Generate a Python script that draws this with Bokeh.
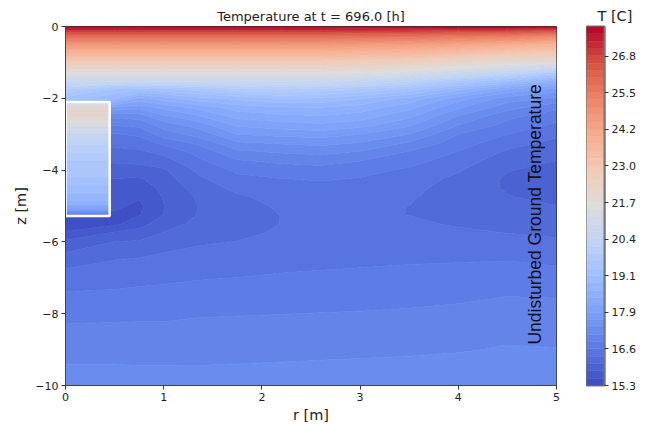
from bokeh.plotting import figure
from bokeh.layouts import row
from bokeh.models import FixedTicker, Title, Range1d
from bokeh.core.properties import value
from bokeh.embed import file_html
from bokeh.resources import INLINE
import numpy as np

TITLE = "Temperature at t = 696.0 [h]"
X_LABEL = "r [m]"
Y_LABEL = "z [m]"
CBAR_TITLE = "T [C]"
NOTE = "Undisturbed Ground Temperature"
T_MIN, T_MAX = 15.3, 27.83
BANDS = 49
cbar_ticks = [15.3, 16.577, 17.855, 19.132, 20.41, 21.687, 22.965, 24.242, 25.52, 26.797]
cbar_labels = ["15.3", "16.6", "17.9", "19.1", "20.4", "21.7", "23.0", "24.2", "25.5", "26.8"]
x_ticks = [0, 1, 2, 3, 4, 5]
y_ticks = [-10, -8, -6, -4, -2, 0]
y_labels = ["\u221210", "\u22128", "\u22126", "\u22124", "\u22122", "0"]

well_r = [0.0, 0.45]
well_top, well_bottom = -2.1, -5.28
well_z = [-2.1, -2.25, -2.4, -2.6, -3.0, -3.4, -3.8, -4.2, -4.6, -4.9, -5.1, -5.3]
well_T = [21.0, 21.7, 22.1, 21.7, 20.7, 20.0, 19.6, 19.4, 19.0, 18.6, 17.8, 16.3]

depths = [0, -.1, -.25, -.5, -.75, -1, -1.25, -1.5, -1.75, -2, -2.25, -2.5, -2.75, -3, -3.25, -3.5, -3.75,
          -4, -4.25, -4.5, -4.75, -5, -5.25, -5.5, -5.75, -6, -6.5, -7, -7.5, -8, -8.5, -9, -9.5, -10]
radii = [0, .5, .75, 1, 1.35, 1.75, 2.2, 2.6, 3, 3.5, 4, 4.5, 5]

upper = [27.83, 27.1, 26.0, 24.7, 23.7, 22.7, 21.7, 20.8]
T_r0 = upper + [19.9, 19.3, 18.0, 17.2, 16.84, 16.56, 16.39, 16.25, 16.1, 15.95, 15.8, 15.72, 15.66, 15.6, 15.4, 15.45, 15.58, 15.86, 16.21, 16.43, 16.62, 16.76, 16.89, 17.0, 17.11, 17.22]
T_r050 = upper + [19.3, 18.95, 17.8, 17.15, 16.84, 16.56, 16.39, 16.25, 16.1, 15.95, 15.8, 15.72, 15.66, 15.6, 15.52, 15.5, 15.85, 16.07, 16.32, 16.48, 16.63, 16.77, 16.9, 17.0, 17.11, 17.22]
T_r075 = upper + [19.2, 18.3, 17.7, 17.2, 16.9, 16.62, 16.45, 16.26, 16.13, 15.95, 15.78, 15.67, 15.58, 15.5, 15.54, 15.72, 15.9, 16.1, 16.35, 16.51, 16.65, 16.78, 16.9, 17.0, 17.1, 17.21]
T_r100 = upper + [19.3, 18.5, 17.95, 17.55, 17.2, 16.97, 16.63, 16.4, 16.2, 16.03, 15.95, 15.88, 15.83, 15.8, 15.82, 15.95, 16.08, 16.2, 16.4, 16.53, 16.66, 16.78, 16.9, 17.0, 17.1, 17.21]
T_r135 = upper + [19.5, 18.8, 18.2, 17.82, 17.45, 17.18, 16.88, 16.65, 16.52, 16.38, 16.27, 16.18, 16.1, 16.07, 16.08, 16.14, 16.22, 16.29, 16.43, 16.56, 16.69, 16.81, 16.92, 17.01, 17.1, 17.22]
T_r175 = upper + [19.8, 18.95, 18.5, 18.2, 17.9, 17.6, 17.3, 17.02, 16.8, 16.63, 16.5, 16.39, 16.28, 16.2, 16.17, 16.2, 16.26, 16.33, 16.45, 16.58, 16.71, 16.82, 16.92, 17.01, 17.11, 17.22]
T_r220 = upper + [19.9, 19.15, 18.6, 18.3, 17.98, 17.68, 17.37, 17.11, 16.88, 16.7, 16.57, 16.48, 16.42, 16.37, 16.33, 16.33, 16.36, 16.39, 16.49, 16.61, 16.72, 16.83, 16.93, 17.02, 17.12, 17.23]
T_r260 = upper + [19.8, 19.1, 18.62, 18.35, 18.05, 17.72, 17.42, 17.16, 16.92, 16.74, 16.6, 16.5, 16.44, 16.4, 16.38, 16.38, 16.4, 16.43, 16.52, 16.62, 16.73, 16.84, 16.94, 17.03, 17.13, 17.24]
T_r300 = [27.83, 27.05, 25.95, 24.6, 23.6, 22.6, 21.6, 20.6, 19.6, 18.9, 18.52, 18.24, 17.95, 17.6, 17.32, 17.06, 16.83, 16.66, 16.56, 16.47, 16.41, 16.37, 16.35, 16.36, 16.39, 16.43, 16.53, 16.64, 16.74, 16.85, 16.96, 17.04, 17.14, 17.26]
T_r350 = [27.83, 27.0, 25.9, 24.5, 23.5, 22.4, 21.4, 20.3, 19.3, 18.55, 18.2, 17.92, 17.64, 17.35, 17.05, 16.8, 16.66, 16.54, 16.45, 16.39, 16.35, 16.32, 16.32, 16.36, 16.42, 16.47, 16.55, 16.66, 16.75, 16.87, 16.97, 17.05, 17.16, 17.27]
T_r400 = [27.83, 26.9, 25.7, 24.3, 23.2, 22.1, 21.0, 19.7, 18.7, 17.98, 17.65, 17.33, 17.09, 16.83, 16.7, 16.56, 16.45, 16.35, 16.26, 16.22, 16.2, 16.21, 16.25, 16.3, 16.36, 16.42, 16.56, 16.68, 16.78, 16.9, 16.99, 17.07, 17.18, 17.28]
T_r450 = [27.83, 26.9, 25.6, 24.0, 22.9, 21.8, 20.6, 19.2, 18.1, 17.48, 17.2, 16.9, 16.75, 16.58, 16.42, 16.28, 16.17, 16.08, 16.03, 16.04, 16.08, 16.14, 16.2, 16.26, 16.32, 16.39, 16.57, 16.7, 16.83, 16.93, 17.03, 17.11, 17.2, 17.3]
T_r500 = [27.83, 26.6, 25.3, 23.7, 22.7, 21.6, 20.0, 18.6, 17.75, 17.3, 16.9, 16.68, 16.53, 16.37, 16.25, 16.15, 16.06, 15.99, 15.96, 15.96, 16.0, 16.07, 16.13, 16.2, 16.28, 16.36, 16.52, 16.69, 16.82, 16.92, 17.0, 17.1, 17.2, 17.3]

# matplotlib "coolwarm" sampled every tenth
cw_pos = [0, .1, .2, .3, .4, .5, .6, .7, .8, .9, 1]
cw_rgb = [(59, 76, 192), (90, 120, 228), (123, 159, 249), (158, 190, 255), (192, 212, 245), (221, 220, 220),
          (242, 203, 183), (247, 172, 142), (238, 132, 104), (214, 82, 68), (180, 4, 38)]
frac = (np.arange(BANDS) + 0.5) / BANDS
channels = [np.interp(frac, cw_pos, [c[i] for c in cw_rgb]) for i in range(3)]
palette = ["#%02x%02x%02x" % (int(a), int(b), int(c)) for a, b, c in zip(*channels)]
line_palette = palette + [palette[-1]]
levels = np.linspace(T_MIN, T_MAX, BANDS + 1)

field = np.array([T_r0, T_r050, T_r075, T_r100, T_r135, T_r175, T_r220, T_r260, T_r300, T_r350, T_r400, T_r450, T_r500]).T
z_up = np.array(depths[::-1], dtype=float)
field_up = field[::-1, :]

TXT = "#222222"
p = figure(width=586, height=417, x_range=Range1d(0, 5), y_range=Range1d(-10, 0), output_backend="svg",
           toolbar_location=None, min_border_left=65, min_border_right=30, min_border_top=26, min_border_bottom=32,
           frame_width=491, frame_height=359)
p.grid.visible = False
p.contour(np.array(radii, dtype=float), z_up, field_up, levels, fill_color=palette, line_color=line_palette, line_width=1)

wz = np.array(well_z[::-1], dtype=float)
wT = np.array(well_T[::-1], dtype=float)
p.contour(np.array(well_r), wz, np.column_stack([wT, wT]), levels, fill_color=palette, line_color=line_palette, line_width=1)
p.quad(left=[well_r[0]], right=[well_r[1]], top=[well_top], bottom=[well_bottom], fill_color=None,
       line_color="white", line_width=2.5)
p.text(x=[4.78], y=[-5.23], text=[NOTE], angle=np.pi / 2, text_align="center", text_baseline="middle",
       text_font=value("Liberation Sans"), text_font_size=value("17.5px"), text_color="#111111")

p.xaxis.ticker = FixedTicker(ticks=x_ticks)
p.yaxis.ticker = FixedTicker(ticks=y_ticks)
p.yaxis.major_label_overrides = dict(zip(y_ticks, y_labels))
p.xaxis.axis_label = X_LABEL
p.yaxis.axis_label = Y_LABEL
for ax in (p.xaxis[0], p.yaxis[0]):
    ax.major_label_text_font = "DejaVu Sans"
    ax.major_label_text_font_size = "11px"
    ax.major_label_text_color = TXT
    ax.axis_label_text_font = "DejaVu Sans"
    ax.axis_label_text_font_size = "14.5px"
    ax.axis_label_text_font_style = "normal"
    ax.axis_label_text_color = TXT
    ax.minor_tick_line_color = None
    ax.major_tick_out = 4
    ax.major_tick_in = 0
    ax.major_tick_line_color = "#333333"
    ax.axis_line_color = "#444444"
    ax.major_label_standoff = 3
    ax.axis_label_standoff = 3
p.outline_line_color = "#333333"
p.add_layout(Title(text=TITLE, align="center", text_font="DejaVu Sans", text_font_size="13px",
                   text_font_style="normal", text_color=TXT, standoff=5), "above")

# colour bar
cb = figure(width=58, height=417, x_range=Range1d(0, 1), y_range=Range1d(T_MIN, T_MAX), output_backend="svg",
            toolbar_location=None, min_border_left=0, min_border_right=40, min_border_top=26, min_border_bottom=32,
            frame_width=18, frame_height=359, y_axis_location="right")
cb.grid.visible = False
cb.xaxis.visible = False
cb.quad(left=0, right=1, bottom=levels[:-1], top=levels[1:], fill_color=palette, line_color=palette, line_width=0.5)
cb.yaxis.ticker = FixedTicker(ticks=cbar_ticks)
cb.yaxis.major_label_overrides = dict(zip(cbar_ticks, cbar_labels))
ay = cb.yaxis[0]
ay.major_label_text_font = "DejaVu Sans"
ay.major_label_text_font_size = "11px"
ay.major_label_text_color = TXT
ay.minor_tick_line_color = None
ay.major_tick_out = 4
ay.major_tick_in = 0
ay.major_tick_line_color = "#333333"
ay.axis_line_color = "#777777"
ay.axis_line_width = 2
ay.major_label_standoff = 3
cb.outline_line_color = "#777777"
cb.outline_line_width = 2
cb.add_layout(Title(text=CBAR_TITLE, align="left", offset=11, text_font="DejaVu Sans", text_font_size="14.5px",
                    text_font_style="normal", text_color=TXT, standoff=5), "above")

open("out.html", "w").write(file_html(row(p, cb), INLINE))
